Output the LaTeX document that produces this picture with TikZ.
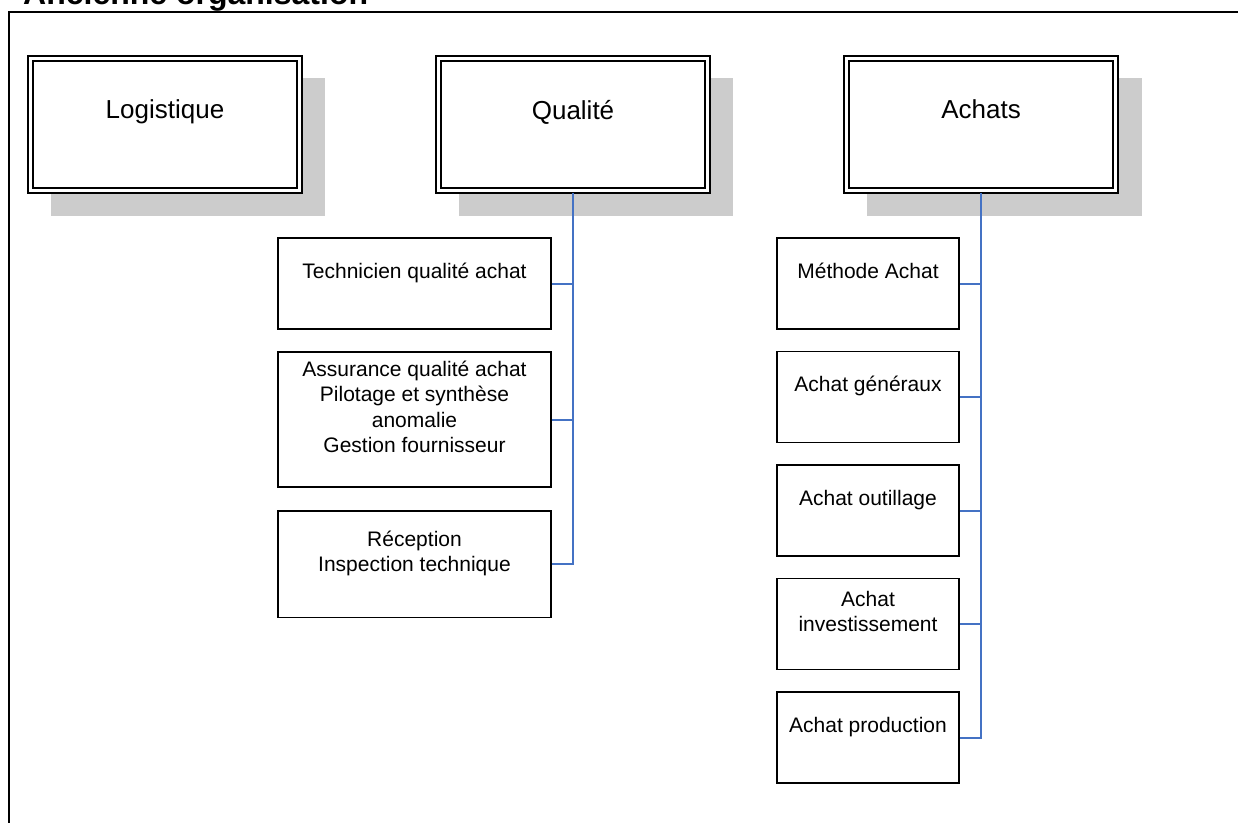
\documentclass[tikz,border=0pt]{standalone}
\usepackage{fontspec}
\setmainfont{Liberation Sans}
\definecolor{shadowgray}{RGB}{204,204,204}
\definecolor{linkblue}{RGB}{68,114,196}
\tikzset{
  topbox/.style={draw=black, fill=white, double=white, line width=1.8pt, double distance=3.2pt,
    outer sep=2.5pt, minimum width=269pt, minimum height=132pt, inner sep=0pt, align=center,
    font=\fontsize{26}{30}\selectfont},
  subbox/.style={draw=black, fill=white, line width=1.5pt, inner sep=0pt, align=center,
    font=\fontsize{21}{25.5}\selectfont},
  qsub/.style={subbox, minimum width=273pt},
  asub/.style={subbox, minimum width=182pt, minimum height=91pt},
  link/.style={draw=linkblue, line width=2pt},
  shadowbox/.style={fill=shadowgray, draw=none},
  frame/.style={draw=black, line width=2pt}
}
\begin{document}
\begin{tikzpicture}[x=1pt,y=-1pt]
\useasboundingbox (0,0) rectangle (1238,822);
\clip (0,0) rectangle (1238,822);
% title (cut at the top, as in the reference)
\node[anchor=base west, inner sep=0pt, font=\fontsize{32}{38}\selectfont\bfseries] (title) at (23,4.5) {Ancienne organisation};
% frame
\draw[frame] (9,830) -- (9,12) -- (1245,12);
% shadows
\fill[shadowbox] (51,78) rectangle (325,216);
\fill[shadowbox] (459,78) rectangle (733,216);
\fill[shadowbox] (867,78) rectangle (1142,216);
% top boxes
\node[topbox] (log) at (165,124.5) {Logistique\\ \mbox{}};
\node[topbox] (qual) at (573,124.5) {Qualité\\ \mbox{}};
\node[topbox] (ach) at (981,124.5) {Achats\\ \mbox{}};
% Qualite children
\node[qsub, minimum height=91pt] (tech) at (414.5,283.5) {Technicien qualité achat\\ \mbox{}};
\node[qsub, minimum height=135pt] (assur) at (414.5,419.5) {Assurance qualité achat\\ Pilotage et synthèse\\ anomalie\\ Gestion fournisseur\\ \mbox{}};
\node[qsub, minimum height=106.5pt] (recep) at (414.5,564) {Réception\\ Inspection technique\\ \mbox{}};
% Achats children
\node[asub] (meth) at (868,283.5) {Méthode Achat\\ \mbox{}};
\node[asub] (gen) at (868,397) {Achat généraux\\ \mbox{}};
\node[asub] (out) at (868,510.5) {Achat outillage\\ \mbox{}};
\node[asub] (inv) at (868,624) {Achat\\ investissement\\ \mbox{}};
\node[asub] (prod) at (868,737.5) {Achat production\\ \mbox{}};
% connectors Qualite
\draw[link] (qual.south) -- (qual.south |- recep.east) -- (recep.east);
\draw[link] (tech.east) -- (tech.east -| qual.south);
\draw[link] (assur.east) -- (assur.east -| qual.south);
% connectors Achats
\draw[link] (ach.south) -- (ach.south |- prod.east) -- (prod.east);
\draw[link] (meth.east) -- (meth.east -| ach.south);
\draw[link] (gen.east) -- (gen.east -| ach.south);
\draw[link] (out.east) -- (out.east -| ach.south);
\draw[link] (inv.east) -- (inv.east -| ach.south);
\end{tikzpicture}
\end{document}
